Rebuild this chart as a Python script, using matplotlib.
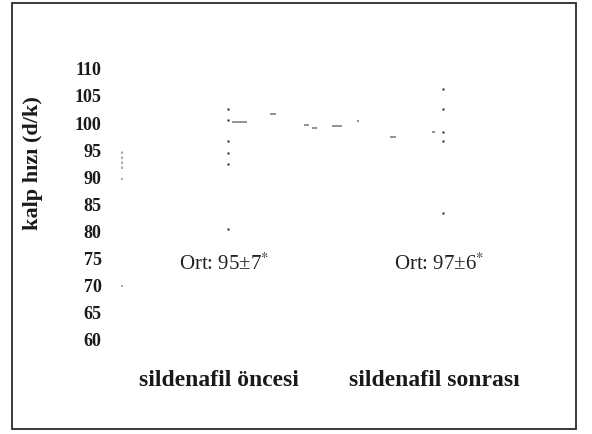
"""Heart rate before / after sildenafil: dot plot with faded pair segments."""

import matplotlib

matplotlib.use("Agg")
import matplotlib.pyplot as plt
from matplotlib.patches import Rectangle
from matplotlib.transforms import ScaledTranslation

plt.rcParams.update({"font.family": ["Liberation Serif", "DejaVu Serif"],
                     "mathtext.fontset": "stix"})

# --- data ---
groups = ["sildenafil öncesi", "sildenafil sonrası"]
group_pos = [1, 2]
before_hr = [102.4, 100.4, 96.4, 94.3, 92.2, 80.2]
after_hr = [106.2, 102.4, 98.2, 96.5, 83.1]
means = ["Ort: 95±7$^{*}$", "Ort: 97±6$^{*}$"]
mean_label_y = 73.8
yticks = [60, 65, 70, 75, 80, 85, 90, 95, 100, 105, 110]

# faded fragments of the lines joining each patient's pair (x0, x1, y)
pair_frag_x0 = [1.017, 1.195, 1.353, 1.389, 1.482, 1.600, 1.753, 1.950]
pair_frag_x1 = [1.087, 1.221, 1.377, 1.413, 1.529, 1.610, 1.780, 1.965]
pair_frag_y = [100.0, 101.5, 99.5, 98.8, 99.2, 100.1, 97.3, 98.2]

# remnants of the y axis line
axis_frag_lo = [91.3, 89.2, 69.4]
axis_frag_hi = [94.8, 89.6, 69.9]

W, H, DPI = 592, 435, 100
fig = plt.figure(figsize=(W / DPI, H / DPI), dpi=DPI)
fig.patch.set_facecolor("white")

# axes box in pixels: left 121, right 560, top 40, bottom 345
ax = fig.add_axes([121 / W, (H - 345) / H, (560 - 121) / W, (345 - 40) / H])
ax.set_xlim(0.5023, 2.5442)
ax.set_ylim(58.89, 115.37)
for s in ax.spines.values():
    s.set_visible(False)

ax.set_yticks(yticks)
ax.set_yticklabels([str(v) for v in yticks], fontsize=13, fontweight="bold")
ax.tick_params(axis="y", length=0, pad=14, colors="#1a1a1a")
ax.set_xticks(group_pos)
ax.set_xticklabels(groups, fontsize=17, fontweight="bold")
ax.tick_params(axis="x", length=0, pad=18, colors="#1a1a1a")
shift = ScaledTranslation(-6.5 / 72, 0, fig.dpi_scale_trans)
for lab in ax.get_xticklabels():
    lab.set_transform(lab.get_transform() + shift)

# pair fragments and axis remnants
ax.hlines(pair_frag_y, pair_frag_x0, pair_frag_x1, color="#8a8a8a", lw=1.3)
ax.vlines([0.505] * len(axis_frag_lo), axis_frag_lo, axis_frag_hi,
          color="#9a9a9a", lw=1.2, linestyles=(0, (1.5, 1.5)))

ax.plot([group_pos[0]] * len(before_hr), before_hr, ls="none", marker="s",
        ms=1.6, color="#222222", mec="none")
ax.plot([group_pos[1]] * len(after_hr), after_hr, ls="none", marker="s",
        ms=1.6, color="#222222", mec="none")

for x, txt in zip(group_pos, means):
    ax.text(x - 0.02, mean_label_y, txt, ha="center", va="center",
            fontsize=15, color="#222222")

fig.text(33 / W, 1 - 163 / H, "kalp hızı (d/k)", rotation=90, ha="center",
         va="center", fontsize=16, fontweight="bold", color="#1a1a1a")

# frame around the whole figure
fig.add_artist(Rectangle((12 / W, 1 - 430 / H), (576 - 12) / W, (430 - 4) / H,
                         transform=fig.transFigure, fill=False,
                         edgecolor="#2a2a2a", lw=1.3))

fig.savefig("out.png", dpi=DPI)
